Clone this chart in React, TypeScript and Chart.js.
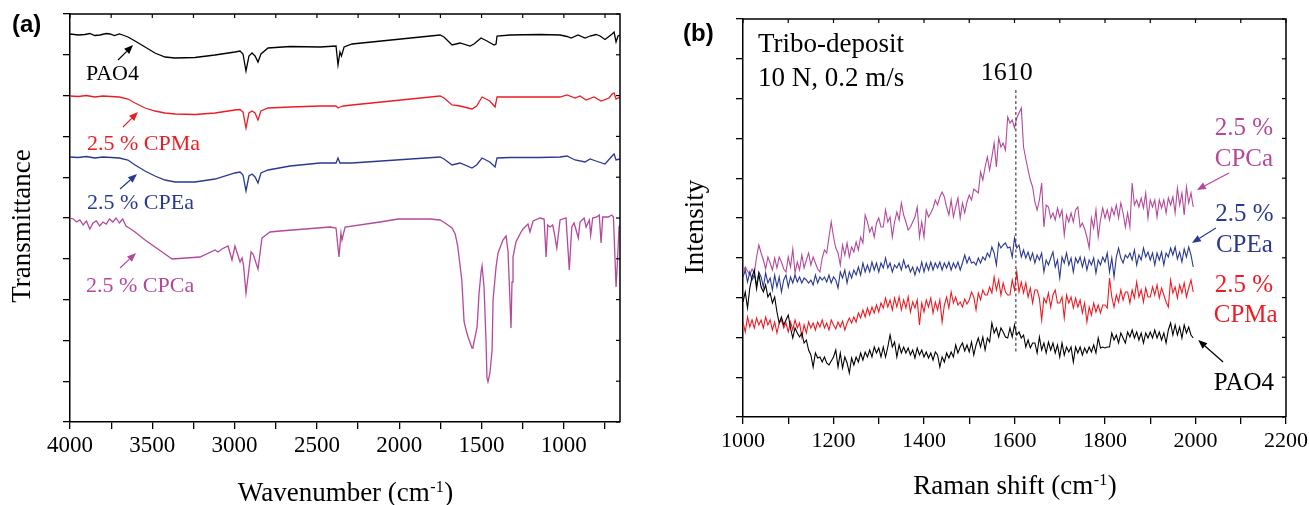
import React, { useEffect, useRef } from 'react';
import { Chart, registerables } from 'chart.js';

Chart.register(...registerables);

const SERIF = '"Liberation Serif", "Times New Roman", Times, serif';
const SANS = '"Liberation Sans", Arial, Helvetica, sans-serif';
const BLACK = '#000000';
const RED = '#ec1c24';
const BLUE = '#2a3990';
const MAGENTA = '#b4489b';

/* ---------------- Panel (a): FTIR ---------------- */
const ftirTicks = [4000, 3750, 3500, 3250, 3000, 2750, 2500, 2250, 2000, 1750, 1500, 1250, 1000, 750];
const ftirTickLabels = [4000, 3500, 3000, 2500, 2000, 1500, 1000];
const ftirMin = 659;
const ftirMax = 4000;
const ftirLevels = [0, 40.8, 81.6, 122.4, 163.2, 204, 244.8, 285.6, 326.4, 367.2, 408];

// [wavenumber, transmittance (arb. units, stacked)]
const ftirPAO4: [number, number][] = [
  [4000, 388], [3950, 387], [3909, 387.5], [3880, 388.5], [3850, 386.5], [3818, 387], [3780, 388.5], [3757, 388],
  [3730, 386.5], [3700, 388], [3680, 387], [3648, 385], [3605, 381], [3544, 375], [3484, 369], [3423, 365],
  [3362, 364], [3241, 364.5], [3119, 367], [2998, 370], [2967, 371], [2949, 368], [2931, 351], [2913, 366],
  [2894, 369], [2876, 366], [2858, 360], [2840, 368], [2797, 374], [2663, 375.5], [2481, 375], [2384, 376],
  [2372, 357], [2360, 370], [2351, 366], [2335, 375], [2287, 378], [1752, 387], [1728, 385], [1679, 377],
  [1631, 379], [1570, 376], [1546, 378], [1503, 384], [1467, 381], [1424, 377], [1412, 378], [1406, 386],
  [1327, 387], [1145, 387.5], [1023, 387], [981, 385.5], [956, 384], [914, 387], [871, 384], [841, 386],
  [805, 387.5], [780, 386], [750, 382.5], [707, 388], [695, 390], [683, 380], [671, 386], [659, 387],
];
const ftirCPMa: [number, number][] = [
  [4000, 326], [3950, 325.5], [3900, 326.5], [3850, 325], [3800, 326], [3750, 325.5], [3700, 325], [3648, 323],
  [3605, 319], [3544, 314], [3484, 311], [3423, 309], [3362, 308], [3241, 307.5], [3119, 309], [2998, 312],
  [2967, 312.5], [2949, 310], [2931, 294], [2913, 309], [2894, 311], [2876, 309], [2858, 302], [2840, 311],
  [2797, 314], [2663, 315], [2481, 316], [2384, 316], [2372, 314], [2360, 315], [2340, 316], [2287, 317],
  [1752, 326], [1728, 324], [1679, 317], [1631, 316], [1558, 313], [1530, 316], [1497, 325], [1450, 321],
  [1418, 315], [1406, 325], [1327, 325], [1145, 325], [1023, 325], [981, 327], [932, 324], [902, 326],
  [865, 322], [817, 325], [774, 321], [725, 324], [707, 328], [695, 329], [683, 323], [659, 325],
];
const ftirCPEa: [number, number][] = [
  [4000, 265], [3950, 264.5], [3900, 265.5], [3850, 264], [3800, 265], [3750, 264.5], [3700, 264], [3648, 262],
  [3605, 257], [3544, 251], [3484, 246], [3423, 242], [3362, 240], [3241, 240], [3119, 243], [2998, 249],
  [2967, 250], [2949, 247], [2931, 231], [2913, 246], [2894, 248], [2876, 245], [2858, 239], [2840, 249],
  [2797, 252], [2663, 256], [2481, 259], [2384, 259], [2372, 264], [2360, 259], [2287, 259], [1752, 265],
  [1728, 263], [1679, 257], [1631, 259], [1558, 254], [1530, 257], [1497, 264], [1450, 260], [1418, 255],
  [1406, 264], [1327, 264.5], [1145, 264.5], [1023, 265], [981, 266], [932, 262], [871, 260], [841, 263],
  [805, 261], [750, 258], [707, 266], [695, 268], [683, 262], [659, 263],
];
const ftirCPCa: [number, number][] = [
  [4000, 204], [3980, 203], [3960, 200], [3940, 202], [3920, 197], [3900, 201], [3880, 193], [3860, 199],
  [3840, 201], [3820, 196], [3800, 200], [3780, 198], [3760, 203], [3740, 200], [3720, 204], [3700, 199],
  [3680, 203], [3660, 196], [3640, 194], [3605, 190], [3544, 182], [3484, 175], [3423, 168], [3380, 163],
  [3210, 165], [3119, 172], [3101, 170], [3077, 173], [3040, 176], [3016, 162], [2998, 176], [2967, 160],
  [2955, 164], [2946, 157], [2931, 129], [2900, 170], [2888, 168], [2858, 153], [2834, 184], [2785, 190],
  [2724, 191], [2420, 195], [2384, 194], [2366, 165], [2354, 189], [2348, 182], [2329, 195], [2117, 200],
  [2007, 203], [1813, 203], [1752, 202], [1722, 199], [1679, 194], [1660, 188], [1645, 176], [1620, 142],
  [1606, 100], [1594, 92], [1582, 85], [1558, 74], [1552, 75], [1527, 95], [1515, 129], [1503, 150],
  [1497, 156], [1485, 135], [1473, 82], [1467, 44], [1461, 40], [1449, 49], [1436, 72], [1430, 122],
  [1412, 155], [1400, 169], [1370, 182], [1351, 186], [1339, 170], [1327, 120], [1321, 94], [1315, 140],
  [1309, 165], [1291, 180], [1260, 190], [1248, 193], [1218, 198], [1206, 190], [1187, 201], [1145, 204],
  [1120, 203], [1108, 165], [1098, 197], [1084, 195], [1068, 197], [1058, 189], [1043, 174], [1023, 202],
  [987, 204], [967, 152], [952, 195], [938, 199], [912, 184], [902, 200], [877, 204], [865, 195],
  [845, 202], [837, 187], [825, 204], [800, 205], [785, 207], [774, 179], [764, 205], [730, 205],
  [709, 207], [699, 205], [689, 162], [683, 135], [673, 165], [665, 195], [659, 197],
];

const ftirNotes = [
  { text: 'PAO4', x: 3903, y: 342, color: BLACK },
  { text: '2.5 % CPMa', x: 3897, y: 272, color: RED },
  { text: '2.5 % CPEa', x: 3897, y: 213, color: BLUE },
  { text: '2.5 % CPCa', x: 3903, y: 130, color: MAGENTA },
];
const ftirArrows = [
  { x1: 3708, y1: 362, x2: 3617, y2: 377, color: BLACK },
  { x1: 3678, y1: 295, x2: 3587, y2: 310, color: RED },
  { x1: 3696, y1: 233, x2: 3593, y2: 248, color: BLUE },
  { x1: 3696, y1: 154, x2: 3599, y2: 169, color: MAGENTA },
];

/* ---------------- Panel (b): Raman ---------------- */
const ramanTicks = [1000, 1100, 1200, 1300, 1400, 1500, 1600, 1700, 1800, 1900, 2000, 2100, 2200];
const ramanTickLabels = [1000, 1200, 1400, 1600, 1800, 2000, 2200];
const ramanLevels = [0, 39.8, 79.6, 119.4, 159.2, 199, 238.8, 278.6, 318.4, 358.2, 398];
// sampling grid of the spectra: 1000, 1005, ... 1995 cm-1
const ramanShift = Array.from({ length: 200 }, (_, i) => 1000 + 5 * i);

const ramanCPCa = [
  145, 150, 146, 142, 148, 144, 160, 172, 164, 157,
  148, 160, 154, 147, 159, 149, 160, 155, 148, 145,
  160, 150, 168, 144, 155, 147, 162, 149, 157, 164,
  152, 160, 154, 148, 145, 159, 167, 164, 180, 195,
  180, 169, 164, 152, 172, 162, 174, 160, 170, 165,
  175, 167, 180, 174, 202, 195, 185, 190, 180, 194,
  199, 190, 190, 207, 195, 200, 180, 195, 205, 197,
  214, 202, 195, 187, 190, 195, 200, 210, 180, 195,
  180, 207, 200, 204, 209, 217, 212, 220, 225, 220,
  210, 202, 217, 200, 210, 219, 199, 214, 204, 215,
  222, 217, 228, 226, 224, 245, 237, 250, 260, 247,
  260, 274, 250, 279, 270, 274, 267, 300, 294, 297,
  289, 299, 304, 309, 270, 258, 247, 237, 230, 215,
  207, 217, 234, 190, 212, 210, 199, 204, 197, 209,
  200, 207, 182, 202, 195, 204, 195, 207, 210, 190,
  194, 188, 180, 169, 199, 189, 207, 180, 197, 209,
  199, 207, 197, 209, 202, 212, 199, 214, 204, 190,
  204, 190, 234, 212, 217, 210, 219, 209, 224, 199,
  217, 210, 217, 200, 217, 209, 217, 204, 219, 212,
  220, 204, 229, 212, 224, 202, 230, 214, 224, 210,
];
const ramanCPEa = [
  140, 147, 135, 145, 137, 142, 132, 145, 140, 130,
  144, 134, 139, 127, 142, 130, 140, 125, 137, 142,
  130, 140, 134, 142, 135, 140, 134, 139, 137, 134,
  137, 132, 142, 134, 140, 137, 140, 135, 142, 134,
  140, 137, 129, 145, 139, 147, 134, 145, 139, 147,
  142, 150, 142, 154, 145, 152, 145, 155, 147, 154,
  145, 154, 149, 159, 149, 154, 145, 152, 149, 154,
  147, 157, 149, 152, 145, 150, 142, 150, 145, 155,
  145, 154, 147, 155, 147, 154, 149, 155, 147, 154,
  149, 155, 147, 154, 149, 155, 147, 154, 162, 154,
  160, 154, 155, 152, 159, 154, 160, 157, 164, 160,
  170, 164, 152, 174, 169, 172, 174, 169, 170, 160,
  179, 169, 172, 160, 167, 159, 165, 157, 164, 154,
  162, 157, 164, 145, 157, 152, 159, 165, 150, 157,
  139, 160, 154, 164, 152, 159, 145, 159, 154, 160,
  150, 159, 147, 157, 152, 159, 144, 157, 152, 160,
  155, 164, 145, 159, 140, 160, 169, 159, 154, 162,
  159, 164, 157, 167, 152, 162, 157, 169, 160, 165,
  157, 164, 152, 164, 157, 165, 152, 164, 160, 169,
  162, 170, 158, 165, 155, 168, 160, 170, 162, 150,
];
const ramanCPMa = [
  95, 85, 100, 90, 97, 89, 99, 92, 97, 89,
  100, 92, 97, 87, 95, 84, 94, 97, 89, 94,
  85, 95, 87, 97, 89, 94, 80, 92, 84, 95,
  89, 94, 87, 95, 90, 97, 89, 94, 87, 97,
  92, 88, 95, 90, 96, 87, 94, 99, 94, 100,
  95, 104, 99, 107, 100, 109, 102, 110, 104, 112,
  105, 114, 109, 119, 110, 117, 107, 119, 110, 120,
  107, 117, 109, 120, 105, 115, 109, 117, 92, 114,
  105, 117, 110, 119, 104, 115, 107, 117, 95, 112,
  120, 109, 125, 114, 120, 112, 115, 110, 118, 113,
  117, 125, 120, 107, 124, 117, 127, 122, 122, 130,
  124, 140, 127, 137, 122, 134, 125, 122, 122, 137,
  127, 145, 125, 135, 124, 134, 120, 129, 114, 127,
  127, 119, 97, 119, 114, 124, 110, 122, 127, 114,
  114, 120, 99, 122, 114, 120, 109, 119, 110, 117,
  104, 114, 95, 110, 102, 114, 105, 112, 104, 112,
  112, 109, 139, 120, 110, 122, 115, 127, 117, 125,
  125, 114, 127, 119, 135, 120, 127, 115, 129, 120,
  120, 130, 122, 132, 119, 129, 122, 115, 110, 137,
  124, 130, 119, 132, 124, 134, 120, 129, 137, 125,
];
const ramanPAO4 = [
  115, 125, 109, 129, 140, 147, 128, 143, 130, 125,
  132, 120, 124, 114, 120, 105, 94, 100, 92, 97,
  102, 89, 79, 89, 84, 80, 84, 74, 77, 67,
  62, 50, 64, 59, 60, 55, 60, 54, 52, 56,
  60, 67, 50, 64, 49, 60, 54, 44, 59, 52,
  60, 55, 64, 57, 65, 60, 67, 60, 70, 64,
  69, 60, 70, 60, 70, 82, 70, 75, 60, 72,
  64, 70, 64, 69, 62, 67, 59, 69, 62, 67,
  60, 65, 59, 64, 57, 65, 62, 50, 60, 55,
  64, 59, 65, 60, 72, 64, 70, 74, 66, 72,
  65, 75, 62, 72, 79, 70, 80, 67, 79, 75,
  94, 84, 89, 80, 89, 85, 80, 79, 89, 80,
  92, 82, 85, 79, 82, 70, 77, 69, 74, 74,
  64, 80, 67, 74, 64, 75, 67, 74, 64, 72,
  60, 74, 62, 70, 65, 70, 55, 70, 64, 70,
  62, 69, 64, 70, 65, 72, 64, 79, 69, 70,
  69, 70, 70, 84, 77, 82, 74, 84, 79, 74,
  85, 80, 87, 79, 85, 77, 84, 74, 84, 79,
  85, 79, 87, 79, 85, 77, 84, 74, 87, 94,
  82, 92, 82, 90, 79, 92, 84, 90, 82, 79,
];

const ramanNotes = [
  { text: 'Tribo-deposit', x: 1033, y: 365, color: BLACK, align: 'left', size: 27 },
  { text: '10 N, 0.2 m/s', x: 1033, y: 331, color: BLACK, align: 'left', size: 27 },
  { text: '1610', x: 1583, y: 337, color: BLACK, align: 'center', size: 26 },
  { text: '2.5 %', x: 2107, y: 282, color: MAGENTA, align: 'center', size: 25 },
  { text: 'CPCa', x: 2107, y: 251, color: MAGENTA, align: 'center', size: 25 },
  { text: '2.5 %', x: 2108, y: 196, color: BLUE, align: 'center', size: 25 },
  { text: 'CPEa', x: 2108, y: 165, color: BLUE, align: 'center', size: 25 },
  { text: '2.5 %', x: 2107, y: 125, color: RED, align: 'center', size: 25 },
  { text: 'CPMa', x: 2111, y: 95, color: RED, align: 'center', size: 25 },
  { text: 'PAO4', x: 2107, y: 27, color: BLACK, align: 'center', size: 25 },
];
const ramanArrows = [
  { x1: 2074, y1: 244, x2: 2003, y2: 227, color: MAGENTA },
  { x1: 2045, y1: 189, x2: 1992, y2: 174, color: BLUE },
  { x1: 2061, y1: 55, x2: 2006, y2: 77, color: BLACK },
];
const ramanMarker = [{ x: 1603, y1: 64, y2: 327 }];

/* ---------------- drawing helpers ---------------- */
type Note = { text: string; x: number; y: number; color: string; align?: string; size?: number };
type Arrow = { x1: number; y1: number; x2: number; y2: number; color: string };
type Deco = {
  panel: string; panelDx: number; panelDy: number;
  xTitle: [string, string, string]; xTitleDy: number;
  yTitle: string; yTitleDx: number; yTitleDy: number;
  notes: Note[]; noteSize: number; arrows: Arrow[];
  markers: { x: number; y1: number; y2: number }[];
};

function decoPlugin(deco: Deco) {
  return {
    id: 'deco',
    afterDraw(chart: any) {
      const { ctx, chartArea: a } = chart;
      const xs = chart.scales.x;
      const ys = chart.scales.y;
      ctx.save();
      // frame top & right
      ctx.strokeStyle = '#000';
      ctx.lineWidth = 1.5;
      ctx.beginPath();
      ctx.moveTo(a.left, a.top);
      ctx.lineTo(a.right, a.top);
      ctx.lineTo(a.right, a.bottom);
      ctx.stroke();
      // inward ticks on top & right
      ctx.lineWidth = 1.2;
      xs.ticks.forEach((t: any) => {
        const p = xs.getPixelForValue(t.value);
        ctx.beginPath();
        ctx.moveTo(p, a.top);
        ctx.lineTo(p, a.top + 4);
        ctx.stroke();
      });
      ys.ticks.forEach((t: any) => {
        const p = ys.getPixelForValue(t.value);
        ctx.beginPath();
        ctx.moveTo(a.right, p);
        ctx.lineTo(a.right - 4, p);
        ctx.stroke();
      });
      // dashed markers
      deco.markers.forEach((m) => {
        const px = xs.getPixelForValue(m.x);
        ctx.save();
        ctx.setLineDash([3, 2.5]);
        ctx.strokeStyle = '#333';
        ctx.lineWidth = 1.1;
        ctx.beginPath();
        ctx.moveTo(px, ys.getPixelForValue(m.y2));
        ctx.lineTo(px, ys.getPixelForValue(m.y1));
        ctx.stroke();
        ctx.restore();
      });
      // arrows
      deco.arrows.forEach((ar) => {
        const x1 = xs.getPixelForValue(ar.x1), y1 = ys.getPixelForValue(ar.y1);
        const x2 = xs.getPixelForValue(ar.x2), y2 = ys.getPixelForValue(ar.y2);
        const ang = Math.atan2(y2 - y1, x2 - x1);
        const hl = 9, hw = 3.6;
        const bx = x2 - hl * Math.cos(ang), by = y2 - hl * Math.sin(ang);
        ctx.strokeStyle = ar.color;
        ctx.fillStyle = ar.color;
        ctx.lineWidth = 1.2;
        ctx.beginPath();
        ctx.moveTo(x1, y1);
        ctx.lineTo(bx, by);
        ctx.stroke();
        ctx.beginPath();
        ctx.moveTo(x2, y2);
        ctx.lineTo(bx + hw * Math.sin(ang), by - hw * Math.cos(ang));
        ctx.lineTo(bx - hw * Math.sin(ang), by + hw * Math.cos(ang));
        ctx.closePath();
        ctx.fill();
      });
      // notes
      ctx.textBaseline = 'alphabetic';
      deco.notes.forEach((n) => {
        ctx.font = `${n.size ?? deco.noteSize}px ${SERIF}`;
        ctx.fillStyle = n.color;
        ctx.textAlign = (n.align as CanvasTextAlign) ?? 'left';
        ctx.fillText(n.text, xs.getPixelForValue(n.x), ys.getPixelForValue(n.y));
      });
      // x title with superscript
      const size = 27, supSize = 16;
      const [main, sup, tail] = deco.xTitle;
      ctx.fillStyle = '#000';
      ctx.textAlign = 'left';
      ctx.font = `${size}px ${SERIF}`;
      const w1 = ctx.measureText(main).width;
      const w3 = ctx.measureText(tail).width;
      ctx.font = `${supSize}px ${SERIF}`;
      const w2 = ctx.measureText(sup).width;
      let tx = (a.left + a.right) / 2 - (w1 + w2 + w3) / 2;
      const base = a.bottom + deco.xTitleDy;
      ctx.font = `${size}px ${SERIF}`;
      ctx.fillText(main, tx, base);
      tx += w1 + 0.5;
      ctx.font = `${supSize}px ${SERIF}`;
      ctx.fillText(sup, tx, base - 9);
      tx += w2 + 0.5;
      ctx.font = `${size}px ${SERIF}`;
      ctx.fillText(tail, tx, base);
      // y title
      ctx.save();
      ctx.translate(a.left + deco.yTitleDx, (a.top + a.bottom) / 2 + deco.yTitleDy);
      ctx.rotate(-Math.PI / 2);
      ctx.textAlign = 'center';
      ctx.font = `${size}px ${SERIF}`;
      ctx.fillText(deco.yTitle, 0, 0);
      ctx.restore();
      // panel letter
      ctx.textAlign = 'left';
      ctx.font = `bold 24px ${SANS}`;
      ctx.fillText(deco.panel, a.left + deco.panelDx, a.top + deco.panelDy);
      ctx.restore();
    },
  };
}

const axisBorder = { display: true, color: '#000', width: 1.5 };
const tickGrid = { drawOnChartArea: false, drawTicks: true, tickLength: 7, color: '#000', lineWidth: 1.3 };

function lineSet(label: string, points: { x: number; y: number }[], color: string, width: number) {
  return { label, data: points, borderColor: color, backgroundColor: color, borderWidth: width, pointRadius: 0, tension: 0, fill: false };
}

function ftirConfig(): any {
  const pts = (arr: [number, number][]) => arr.map(([x, y]) => ({ x, y }));
  return {
    type: 'line',
    data: {
      datasets: [
        lineSet('PAO4', pts(ftirPAO4), BLACK, 1.3),
        lineSet('2.5 % CPMa', pts(ftirCPMa), RED, 1.3),
        lineSet('2.5 % CPEa', pts(ftirCPEa), BLUE, 1.3),
        lineSet('2.5 % CPCa', pts(ftirCPCa), MAGENTA, 1.3),
      ],
    },
    options: {
      animation: false,
      responsive: false,
      maintainAspectRatio: false,
      layout: { padding: { left: 0, top: 14, right: 35, bottom: 0 } },
      plugins: { legend: { display: false }, tooltip: { enabled: false }, title: { display: false } },
      scales: {
        x: {
          type: 'linear', reverse: true, min: ftirMin, max: ftirMax,
          afterBuildTicks: (s: any) => { s.ticks = ftirTicks.map((v) => ({ value: v })); },
          afterFit: (s: any) => { s.height = 83; },
          border: axisBorder, grid: tickGrid,
          ticks: {
            autoSkip: false, maxRotation: 0, minRotation: 0, padding: 3, color: '#000',
            font: { family: SERIF, size: 23 },
            callback: (v: any) => (ftirTickLabels.includes(Number(v)) ? String(v) : ''),
          },
        },
        y: {
          type: 'linear', min: 0, max: 408,
          afterBuildTicks: (s: any) => { s.ticks = ftirLevels.map((v) => ({ value: v })); },
          afterFit: (s: any) => { s.width = 70; },
          border: axisBorder, grid: tickGrid,
          ticks: { display: false },
        },
      },
    },
    plugins: [decoPlugin({
      panel: '(a)', panelDx: -58, panelDy: 18,
      xTitle: ['Wavenumber (cm', '-1', ')'], xTitleDy: 79,
      yTitle: 'Transmittance', yTitleDx: -40, yTitleDy: 8,
      notes: ftirNotes, noteSize: 22, arrows: ftirArrows, markers: [],
    })],
  };
}

function ramanConfig(): any {
  const pts = (vals: number[]) => ramanShift.map((x, i) => ({ x, y: vals[i] }));
  return {
    type: 'line',
    data: {
      datasets: [
        lineSet('PAO4', pts(ramanPAO4), BLACK, 1.1),
        lineSet('2.5 % CPMa', pts(ramanCPMa), RED, 1.1),
        lineSet('2.5 % CPEa', pts(ramanCPEa), BLUE, 1.1),
        lineSet('2.5 % CPCa', pts(ramanCPCa), MAGENTA, 1.1),
      ],
    },
    options: {
      animation: false,
      responsive: false,
      maintainAspectRatio: false,
      layout: { padding: { left: 0, top: 19, right: 29, bottom: 0 } },
      plugins: { legend: { display: false }, tooltip: { enabled: false }, title: { display: false } },
      scales: {
        x: {
          type: 'linear', min: 1000, max: 2200,
          afterBuildTicks: (s: any) => { s.ticks = ramanTicks.map((v) => ({ value: v })); },
          afterFit: (s: any) => { s.height = 88; },
          border: axisBorder, grid: tickGrid,
          ticks: {
            autoSkip: false, maxRotation: 0, minRotation: 0, padding: 4, color: '#000',
            font: { family: SERIF, size: 22 },
            callback: (v: any) => (ramanTickLabels.includes(Number(v)) ? String(v) : ''),
          },
        },
        y: {
          type: 'linear', min: 0, max: 398,
          afterBuildTicks: (s: any) => { s.ticks = ramanLevels.map((v) => ({ value: v })); },
          afterFit: (s: any) => { s.width = 88; },
          border: axisBorder, grid: tickGrid,
          ticks: { display: false },
        },
      },
    },
    plugins: [decoPlugin({
      panel: '(b)', panelDx: -60, panelDy: 22,
      xTitle: ['Raman shift (cm', '-1', ')'], xTitleDy: 77,
      yTitle: 'Intensity', yTitleDx: -40, yTitleDy: 9,
      notes: ramanNotes, noteSize: 25, arrows: ramanArrows, markers: ramanMarker,
    })],
  };
}

function ChartCanvas({ build, left, width }: { build: () => any; left: number; width: number }) {
  const ref = useRef<HTMLCanvasElement | null>(null);
  useEffect(() => {
    if (!ref.current) return;
    const chart = new Chart(ref.current, build());
    return () => chart.destroy();
  }, [build]);
  return (
    <canvas
      ref={ref}
      width={width}
      height={505}
      style={{ position: 'absolute', left, top: 0, width, height: 505, display: 'block' }}
    />
  );
}

export default function App() {
  return (
    <div style={{ position: 'fixed', left: 0, top: 0, width: 1309, height: 505, background: '#fff', overflow: 'hidden' }}>
      <ChartCanvas build={ftirConfig} left={0} width={655} />
      <ChartCanvas build={ramanConfig} left={655} width={660} />
    </div>
  );
}
